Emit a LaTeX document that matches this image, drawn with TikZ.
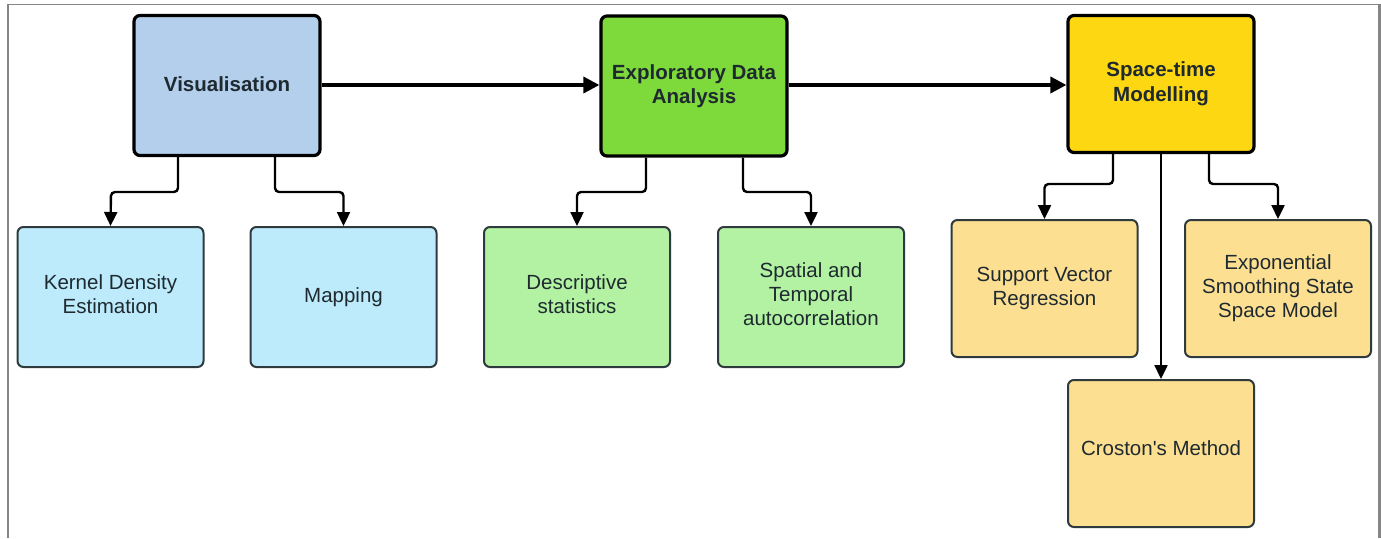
\documentclass[tikz,border=0pt]{standalone}
\usepackage{fontspec}
\setmainfont{Liberation Sans}
\usetikzlibrary{arrows.meta,positioning}
\definecolor{framegray}{HTML}{858585}
\definecolor{visfill}{HTML}{B4CFEC}
\definecolor{edafill}{HTML}{7ED93A}
\definecolor{stfill}{HTML}{FDD711}
\definecolor{bluechild}{HTML}{BDEBFB}
\definecolor{greenchild}{HTML}{B2F2A2}
\definecolor{yellowchild}{HTML}{FDDF92}
\definecolor{childline}{HTML}{2E3A3E}
\definecolor{txtdark}{HTML}{1E2A30}
\tikzset{
  x=1pt, y=-1pt,
  mainbox/.style={draw=black, line width=3.2pt, rounded corners=6pt, minimum width=186pt, align=center,
    font=\fontsize{20.5}{24.5}\selectfont\bfseries, text=txtdark, inner sep=0pt},
  childbox/.style={draw=childline, line width=2pt, rounded corners=6pt, minimum width=186pt, align=center,
    font=\fontsize{20.5}{24}\selectfont, text=txtdark, inner sep=0pt},
  mainarrow/.style={line width=3.6pt, -{Triangle[length=16pt,width=16pt]}},
  childarrow/.style={line width=2.4pt, rounded corners=4pt, -{Triangle[length=14pt,width=13pt]}},
}
\begin{document}
\begin{tikzpicture}
\useasboundingbox (0,0) rectangle (1381,538);
\fill[white] (0,0) rectangle (1381,538);
% frame
\draw[framegray, line width=1.5pt] (8,4.5) -- (1380,4.5);
\draw[framegray, line width=2.2pt] (8,4) -- (8,538);
\draw[framegray, line width=2.2pt] (1379.5,4) -- (1379.5,538);
% main boxes
\node[mainbox, fill=visfill, minimum height=140pt] (vis) at (227,85.5) {\raisebox{2pt}{Visualisation}};
\node[mainbox, fill=edafill, minimum height=140pt] (eda) at (694,86) {Exploratory Data\\Analysis};
\node[mainbox, fill=stfill, minimum height=137pt] (st) at (1161,84) {\raisebox{4pt}{\begin{tabular}{@{}c@{}}Space-time\\Modelling\end{tabular}}};
% child boxes
\node[childbox, fill=bluechild, minimum height=140pt] (kde) at (110.5,297) {\raisebox{3pt}{\begin{tabular}{@{}c@{}}Kernel Density\\Estimation\end{tabular}}};
\node[childbox, fill=bluechild, minimum height=140pt] (map) at (343.5,297) {Mapping};
\node[childbox, fill=greenchild, minimum height=140pt] (desc) at (577,297) {\raisebox{2pt}{\begin{tabular}{@{}c@{}}Descriptive\\statistics\end{tabular}}};
\node[childbox, fill=greenchild, minimum height=140pt] (spat) at (811,297) {\raisebox{4pt}{\begin{tabular}{@{}c@{}}Spatial and\\Temporal\\autocorrelation\end{tabular}}};
\node[childbox, fill=yellowchild, minimum height=137pt] (svr) at (1044.5,288.5) {\raisebox{2pt}{\begin{tabular}{@{}c@{}}Support Vector\\Regression\end{tabular}}};
\node[childbox, fill=yellowchild, minimum height=137pt] (exp) at (1278,288.5) {\raisebox{2pt}{\begin{tabular}{@{}c@{}}Exponential\\Smoothing State\\Space Model\end{tabular}}};
\node[childbox, fill=yellowchild, minimum height=147pt] (cro) at (1161,453.5) {\raisebox{11pt}{Croston\textquotesingle s Method}};
% main arrows
\draw[mainarrow] (vis.east |- 0,85) -- (eda.west |- 0,85);
\draw[mainarrow] (eda.east |- 0,85) -- (st.west |- 0,85);
% child connectors
\draw[childarrow] (vis.south -| 178,0) |- (111,192) -- (kde.north);
\draw[childarrow] (vis.south -| 275,0) |- (343.5,192) -- (map.north);
\draw[childarrow] (eda.south -| 646,0) |- (577,192) -- (desc.north);
\draw[childarrow] (eda.south -| 743,0) |- (811,192) -- (spat.north);
\draw[childarrow] (st.south -| 1113,0) |- (1044.5,184) -- (svr.north);
\draw[childarrow] (st.south -| 1209,0) |- (1278,184) -- (exp.north);
\draw[childarrow] (st.south) -- (cro.north);
\end{tikzpicture}
\end{document}
